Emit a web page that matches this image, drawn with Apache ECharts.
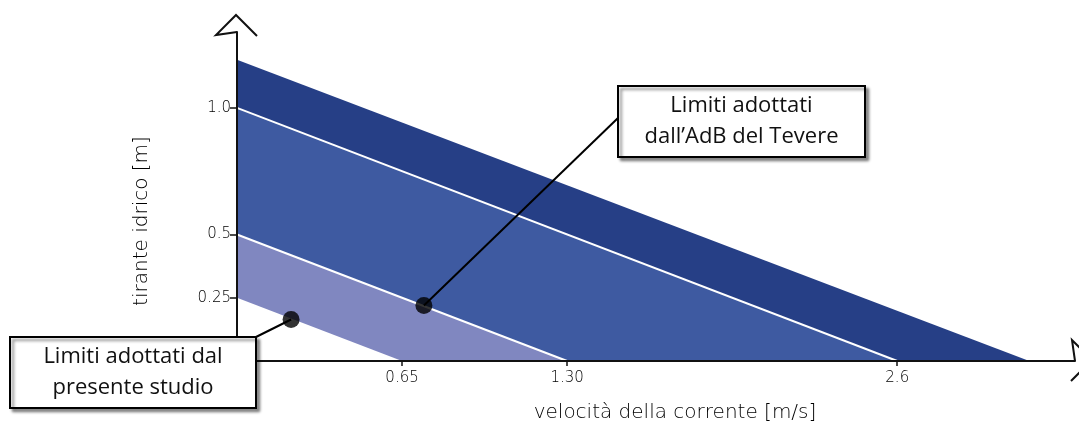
<!DOCTYPE html>
<html>
<head>
<meta charset="utf-8">
<script src="https://cdn.jsdelivr.net/npm/echarts@6/dist/echarts.min.js"></script>
<style>
  html, body { margin: 0; padding: 0; background: #fff; }
  #chart { width: 1079px; height: 429px; }
</style>
</head>
<body>
<div id="chart"></div>
<script>
// limiti: tirante a velocità nulla [m] e velocità a tirante nullo [m/s]
const limitNames = ['limite esterno', 'AdB Tevere', 'presente studio', 'soglia inferiore']
const depthAtZero = [1.19, 1.0, 0.5, 0.25]
const speedAtZero = [3.12, 2.6, 1.3, 0.65]

const xTicks = [0.65, 1.3, 2.6]
const xTickLabels = ['0.65', '1.30', '2.6']
const yTicks = [0.25, 0.5, 1.0]
const yTickLabels = ['0.25', '0.5', '1.0']

// punti indicati dai riquadri
const calloutPoints = [[0.213, 0.164], [0.736, 0.219]]
const calloutTexts = ['Limiti adottati dal\npresente studio', 'Limiti adottati\ndall\u2019AdB del Tevere']

const X_MAX = 3.3
const Y_MAX = 1.3
const fillColors = ['#263f86', '#3e5aa1', '#8087c0', '#ffffff']
const edgeColors = [null, '#ffffff', '#ffffff', null]
const axisFont = '"DejaVu Sans", sans-serif'
const boxFont = '"Open Sans", "Noto Sans", sans-serif'

const chart = echarts.init(document.getElementById('chart'))

const series = limitNames.map((name, i) => ({
  name: name,
  type: 'line',
  symbol: 'none',
  silent: true,
  z: 2 + i,
  data: [[0, depthAtZero[i]], [speedAtZero[i], 0]],
  lineStyle: edgeColors[i]
    ? { color: edgeColors[i], width: 2 }
    : { width: 0 },
  areaStyle: { color: fillColors[i], opacity: 1 }
}))

series.push({
  name: 'punti',
  type: 'scatter',
  symbol: 'circle',
  symbolSize: 17,
  z: 40,
  itemStyle: { color: '#000' },
  data: calloutPoints
})

chart.setOption({
  animation: false,
  backgroundColor: '#fff',
  grid: { left: 237, right: 4, top: 32, bottom: 68, outerBoundsMode: 'none' },
  xAxis: {
    type: 'value',
    min: 0,
    max: X_MAX,
    z: 10,
    splitLine: { show: false },
    axisLine: { lineStyle: { color: '#111', width: 2 } },
    axisTick: { customValues: xTicks, length: 5, lineStyle: { color: '#111', width: 1.5 } },
    axisLabel: {
      customValues: xTicks,
      margin: 10,
      fontFamily: axisFont,
      fontWeight: 200,
      fontSize: 15,
      color: '#000',
      formatter: v => xTickLabels[xTicks.indexOf(v)]
    }
  },
  yAxis: {
    type: 'value',
    min: 0,
    max: Y_MAX,
    z: 10,
    splitLine: { show: false },
    axisLine: { lineStyle: { color: '#111', width: 2 } },
    axisTick: { customValues: yTicks, length: 7, lineStyle: { color: '#111', width: 1.5 } },
    axisLabel: {
      customValues: yTicks,
      margin: 6,
      padding: [0, 0, 8, 0],
      fontFamily: axisFont,
      fontWeight: 200,
      fontSize: 15,
      color: '#000',
      formatter: v => yTickLabels[yTicks.indexOf(v)]
    }
  },
  series: series
})

// frecce degli assi, riquadri e richiami
const topEnd = chart.convertToPixel({ gridIndex: 0 }, [0, Y_MAX])
const rightEnd = chart.convertToPixel({ gridIndex: 0 }, [X_MAX, 0])
const dots = calloutPoints.map(p => chart.convertToPixel({ gridIndex: 0 }, p))

const arrowStyle = { stroke: '#111', lineWidth: 2, fill: null }
const boxes = [
  { x: 10, y: 337, w: 246, h: 71, anchor: [256, 337] },
  { x: 618, y: 86, w: 247, h: 71, anchor: [618, 118] }
]

const graphic = [
  {
    type: 'polyline', z: 20,
    shape: { points: [[topEnd[0], topEnd[1]], [topEnd[0] - 21, topEnd[1] + 3], [topEnd[0] - 1, topEnd[1] - 17], [topEnd[0] + 20, topEnd[1] + 4]] },
    style: arrowStyle
  },
  {
    type: 'polyline', z: 20,
    shape: { points: [[rightEnd[0], rightEnd[1]], [rightEnd[0] - 3, rightEnd[1] - 21], [rightEnd[0] + 17, rightEnd[1] - 1], [rightEnd[0] - 4, rightEnd[1] + 20]] },
    style: arrowStyle
  },
  {
    type: 'text', z: 20,
    x: 142, y: 221, rotation: Math.PI / 2,
    style: {
      text: 'tirante idrico [m]',
      fontFamily: axisFont, fontWeight: 200, fontSize: 20,
      fill: '#000', align: 'center', verticalAlign: 'middle'
    }
  },
  {
    type: 'text', z: 20,
    x: 675, y: 413,
    style: {
      text: 'velocità della corrente [m/s]',
      fontFamily: axisFont, fontWeight: 200, fontSize: 20,
      fill: '#000', align: 'center', verticalAlign: 'middle'
    }
  }
]

boxes.forEach((b, i) => {
  graphic.push({
    type: 'line', z: 25,
    shape: { x1: dots[i][0], y1: dots[i][1], x2: b.anchor[0], y2: b.anchor[1] },
    style: { stroke: '#000', lineWidth: 2 }
  })
  graphic.push({
    type: 'rect', z: 30,
    shape: { x: b.x, y: b.y, width: b.w, height: b.h },
    style: {
      fill: '#fff', stroke: '#000', lineWidth: 2,
      shadowBlur: 3, shadowOffsetX: 3, shadowOffsetY: 3, shadowColor: 'rgba(0,0,0,0.45)'
    }
  })
  graphic.push({
    type: 'text', z: 31,
    x: b.x + b.w / 2, y: b.y + b.h / 2,
    style: {
      text: calloutTexts[i],
      fontFamily: boxFont, fontSize: 22, lineHeight: 31,
      fill: '#111', align: 'center', verticalAlign: 'middle'
    }
  })
})

chart.setOption({ graphic: graphic })
</script>
</body>
</html>
